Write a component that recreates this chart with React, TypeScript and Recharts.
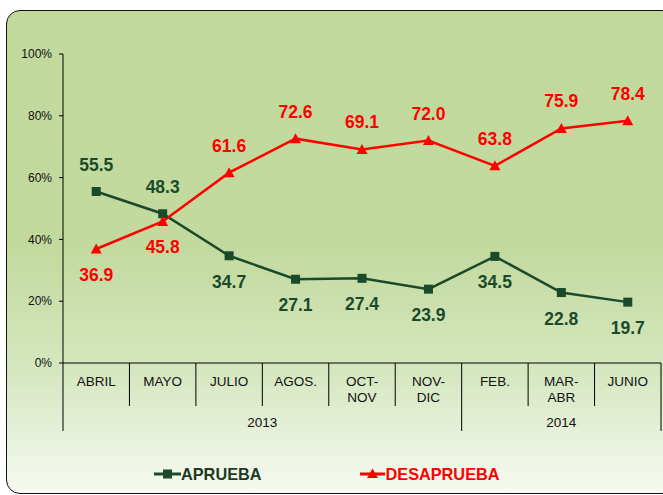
import React from 'react';
import { LineChart, Line, XAxis, YAxis, LabelList } from 'recharts';

const categories = ['ABRIL', 'MAYO', 'JULIO', 'AGOS.', 'OCT-\nNOV', 'NOV-\nDIC', 'FEB.', 'MAR-\nABR', 'JUNIO'];
const years = ['2013', '2014'];
const yearSpans = [6, 3];
const aprueba = [55.5, 48.3, 34.7, 27.1, 27.4, 23.9, 34.5, 22.8, 19.7];
const desaprueba = [36.9, 45.8, 61.6, 72.6, 69.1, 72.0, 63.8, 75.9, 78.4];
const yTicks = [0, 20, 40, 60, 80, 100];

const data = categories.map((c, i) => ({ cat: c, apr: aprueba[i], des: desaprueba[i] }));

const W = 663;
const H = 495;
const XH = 80;
const M = { top: 54, right: 2, bottom: 132 - XH, left: 0 };
const YW = 63;
const BAND = (W - M.left - M.right - YW) / categories.length;
const GREEN = '#1b4a2b';
const RED = '#ff0000';
const FONT = '"Liberation Sans", Arial, sans-serif';

const yearStarts = yearSpans.map((_, k) => yearSpans.slice(0, k).reduce((a, b) => a + b, 0));

const CatTick = (props: any) => {
  const { x, y, payload } = props;
  const i = payload.index;
  const lines = String(payload.value).split('\n');
  const yk = yearStarts.indexOf(i);
  const left = x - BAND / 2;
  const right = x + BAND / 2;
  return (
    <g>
      <line x1={left} x2={left} y1={y} y2={y + (yk >= 0 ? 68 : 43)} stroke="#000" strokeWidth={1} />
      {i === categories.length - 1 && (
        <line x1={right} x2={right} y1={y} y2={y + 68} stroke="#000" strokeWidth={1} />
      )}
      {lines.map((l, j) => (
        <text key={j} x={x} y={y + 23 + j * 15.5} textAnchor="middle" fill="#111" fontSize={13.5} fontFamily={FONT}>
          {l}
        </text>
      ))}
      {yk >= 0 && (
        <text x={left + (yearSpans[yk] * BAND) / 2} y={y + 64} textAnchor="middle" fill="#111" fontSize={13.5} fontFamily={FONT}>
          {years[yk]}
        </text>
      )}
    </g>
  );
};

const makeLabel = (self: number[], other: number[], color: string) => (props: any) => {
  const { x, y, index } = props;
  const v = self[index];
  const above = v > other[index];
  return (
    <text
      x={x}
      y={above ? y - 27 : y + 26}
      textAnchor="middle"
      dominantBaseline="central"
      fill={color}
      fontSize={17.5}
      fontWeight="bold"
      fontFamily={FONT}
    >
      {v.toFixed(1)}
    </text>
  );
};

const SquareDot = (p: any) => (
  <rect key={`s${p.index}`} x={p.cx - 4.5} y={p.cy - 4.5} width={9} height={9} fill={GREEN} />
);
const TriDot = (p: any) => (
  <path
    key={`t${p.index}`}
    d={`M${p.cx},${p.cy - 5.5} L${p.cx + 5.5},${p.cy + 4.5} L${p.cx - 5.5},${p.cy + 4.5} Z`}
    fill={RED}
  />
);

const LegendBox = () => (
  <div
    style={{
      position: 'absolute',
      top: 464,
      left: 154,
      display: 'flex',
      alignItems: 'center',
      fontFamily: FONT,
      fontWeight: 'bold',
      fontSize: 16.3,
      lineHeight: '20px',
    }}
  >
    <svg width={27} height={14} style={{ display: 'block' }}>
      <line x1={0} x2={27} y1={7} y2={7} stroke={GREEN} strokeWidth={3} />
      <rect x={9} y={2.5} width={9} height={9} fill={GREEN} />
    </svg>
    <span style={{ color: '#1f3a24' }}>APRUEBA</span>
    <svg width={25} height={14} style={{ display: 'block', marginLeft: 98 }}>
      <line x1={0} x2={25} y1={7} y2={7} stroke={RED} strokeWidth={3} />
      <path d="M12.5,1.5 L18,11 L7,11 Z" fill={RED} />
    </svg>
    <span style={{ color: RED, marginLeft: 1 }}>DESAPRUEBA</span>
  </div>
);

export default function App() {
  return (
    <div style={{ position: 'absolute', left: 0, top: 0, width: W, height: H, overflow: 'hidden', background: '#fff' }}>
      <div
        style={{
          position: 'absolute',
          left: 6,
          top: 10,
          width: 668,
          height: 482,
          border: '1.5px solid #111',
          borderRadius: 14,
          background: 'linear-gradient(to bottom, #c1d99b 0%, #c3da9f 50%, #d6e7c0 75%, #f6faf1 100%)',
        }}
      />
      <div style={{ position: 'absolute', left: 0, top: 0 }}>
        <LineChart width={W} height={H} data={data} margin={M}>
          <XAxis
            dataKey="cat"
            interval={0}
            tickLine={false}
            tickSize={0}
            tickMargin={0}
            axisLine={{ stroke: '#000', strokeWidth: 1 }}
            tick={<CatTick />}
            padding={{ left: BAND / 2, right: BAND / 2 }}
            height={XH}
          />
          <YAxis
            domain={[0, 100]}
            ticks={yTicks}
            interval={0}
            width={YW}
            tickFormatter={(v: number) => `${v}%`}
            tickSize={4}
            tickMargin={7}
            axisLine={{ stroke: '#000', strokeWidth: 1 }}
            tickLine={{ stroke: '#000', strokeWidth: 1 }}
            tick={{ fill: '#111', fontSize: 12, fontFamily: FONT }}
          />
          <Line
            type="linear"
            dataKey="apr"
            name="APRUEBA"
            stroke={GREEN}
            strokeWidth={2.5}
            dot={<SquareDot />}
            activeDot={false}
            isAnimationActive={false}
          >
            <LabelList dataKey="apr" content={makeLabel(aprueba, desaprueba, GREEN)} />
          </Line>
          <Line
            type="linear"
            dataKey="des"
            name="DESAPRUEBA"
            stroke={RED}
            strokeWidth={2.5}
            dot={<TriDot />}
            activeDot={false}
            isAnimationActive={false}
          >
            <LabelList dataKey="des" content={makeLabel(desaprueba, aprueba, RED)} />
          </Line>
        </LineChart>
      </div>
      <LegendBox />
    </div>
  );
}
